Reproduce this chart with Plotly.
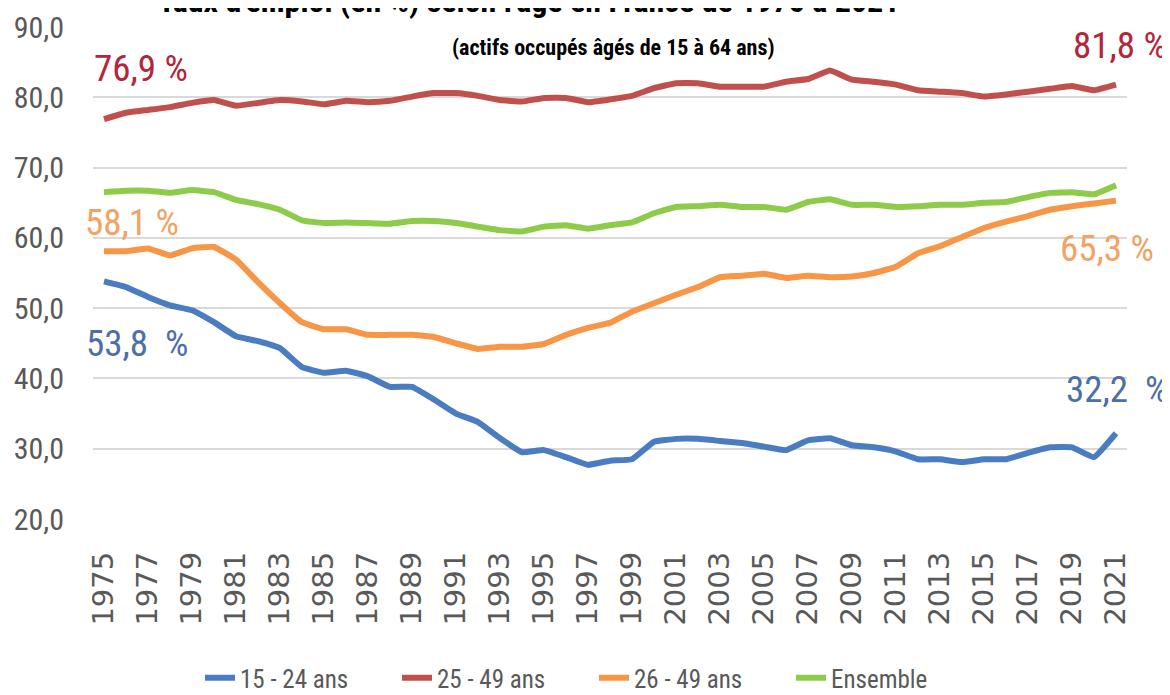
import plotly.graph_objects as go

years = list(range(1975, 2022))

emp_15_24 = [53.8, 53.0, 51.6, 50.4, 49.7, 48.0, 46.0, 45.3, 44.3, 41.6,
             40.8, 41.1, 40.3, 38.8, 38.8, 37.0, 35.0, 33.8, 31.5, 29.5,
             29.8, 28.8, 27.7, 28.3, 28.5, 31.0, 31.4, 31.4, 31.1, 30.8,
             30.3, 29.8, 31.2, 31.5, 30.5, 30.2, 29.6, 28.5, 28.5, 28.1,
             28.5, 28.5, 29.4, 30.2, 30.2, 28.8, 32.2]

emp_25_49 = [76.9, 77.8, 78.2, 78.6, 79.2, 79.6, 78.8, 79.2, 79.6, 79.4,
             79.0, 79.5, 79.3, 79.5, 80.1, 80.6, 80.6, 80.2, 79.6, 79.4,
             79.9, 79.9, 79.3, 79.7, 80.2, 81.3, 82.0, 82.0, 81.5, 81.5,
             81.5, 82.2, 82.6, 83.8, 82.5, 82.2, 81.8, 81.0, 80.8, 80.6,
             80.1, 80.4, 80.8, 81.2, 81.6, 81.0, 81.8]

emp_26_49 = [58.1, 58.1, 58.5, 57.5, 58.5, 58.7, 56.9, 53.7, 50.7, 48.0,
             47.0, 47.0, 46.2, 46.2, 46.2, 45.9, 45.0, 44.2, 44.5, 44.5,
             44.9, 46.2, 47.2, 47.9, 49.5, 50.7, 51.9, 53.0, 54.4, 54.6,
             54.9, 54.3, 54.6, 54.4, 54.5, 55.0, 55.9, 57.8, 58.8, 60.1,
             61.4, 62.3, 63.1, 64.0, 64.5, 64.9, 65.3]

ensemble = [66.5, 66.7, 66.7, 66.4, 66.8, 66.5, 65.4, 64.8, 64.0, 62.5,
            62.1, 62.2, 62.1, 62.0, 62.4, 62.4, 62.1, 61.6, 61.1, 60.9,
            61.6, 61.8, 61.3, 61.8, 62.2, 63.5, 64.4, 64.5, 64.7, 64.4,
            64.4, 64.0, 65.1, 65.5, 64.7, 64.7, 64.4, 64.5, 64.7, 64.7,
            65.0, 65.1, 65.8, 66.4, 66.5, 66.2, 67.5]

series_names = ["15 - 24 ans", "25 - 49 ans", "26 - 49 ans", "Ensemble"]
series_values = [emp_15_24, emp_25_49, emp_26_49, ensemble]
series_colors = ["#4A7CC2", "#C0504D", "#F79646", "#8FCB4A"]

x_tick_years = list(range(1975, 2022, 2))
y_tick_values = [20, 30, 40, 50, 60, 70, 80, 90]
y_tick_labels = [f"{v:.1f}".replace(".", ",") for v in y_tick_values]

title_text = "Taux d'emploi (en %) selon l'âge en France de 1975 à 2021"
subtitle_text = "(actifs occupés âgés de 15 à 64 ans)"

NARROW = "Liberation Sans Narrow, Arial Narrow, Roboto Condensed, Roboto, sans-serif"

fig = go.Figure()
for name, vals, col in zip(series_names, series_values, series_colors):
    fig.add_trace(go.Scatter(x=years, y=vals, mode="lines", name=name,
                             line=dict(color=col, width=6, shape="spline", smoothing=0.3)))

# page body has an 8px margin: figure is drawn from (8, 8)
OFF = 8
W, H = 1170 - OFF, 695 - OFF
L, T = 93 - OFF, 27 - OFF
R = W - (1127 - OFF)
B = H - (519 - OFF)
pw, ph = W - L - R, H - T - B

def px2paper(px, py):
    # px, py given in page pixels
    return (px - OFF - L) / pw, (H - B - (py - OFF)) / ph

def fmt(v):
    return f"{v:.1f}".replace(".", ",")

label_specs = [
    (fmt(emp_25_49[0]) + " %", 141, 69, "#B4243A"),
    (fmt(emp_26_49[0]) + " %", 132, 223, "#F2A263"),
    (fmt(emp_15_24[0]) + "  %", 137, 343, "#4D6FA6"),
    (fmt(emp_25_49[-1]) + " %", 1120, 45, "#B4243A"),
    (fmt(emp_26_49[-1]) + " %", 1107, 248, "#F2A263"),
    (fmt(emp_15_24[-1]) + "  %", 1117, 389, "#4D6FA6"),
]
annotations = []
for txt, px, py, col in label_specs:
    ax, ay = px2paper(px, py)
    annotations.append(dict(text=txt, x=ax, y=ay, xref="paper", yref="paper",
                            xanchor="center", yanchor="middle", showarrow=False,
                            font=dict(family=NARROW, size=37, color=col)))

tx, ty = px2paper(528, 1)
annotations.append(dict(text="<b>" + title_text + "</b>", x=tx, y=ty, xref="paper", yref="paper",
                        xanchor="center", yanchor="middle", showarrow=False,
                        font=dict(family=NARROW, size=32, color="#000000")))
sx, sy = px2paper(613, 47)
annotations.append(dict(text="<b>" + subtitle_text + "</b>", x=sx, y=sy, xref="paper", yref="paper",
                        xanchor="center", yanchor="middle", showarrow=False,
                        font=dict(family=NARROW, size=22, color="#000000")))

lx, ly = px2paper(200, 678)
fig.update_layout(
    width=W, height=H,
    margin=dict(l=L, r=R, t=T, b=B, pad=0, autoexpand=False),
    paper_bgcolor="white", plot_bgcolor="white",
    showlegend=True,
    legend=dict(orientation="h", x=lx, y=ly, xanchor="left", yanchor="middle",
                entrywidth=152, entrywidthmode="pixels",
                font=dict(family=NARROW, size=25, color="#595959"),
                bgcolor="rgba(0,0,0,0)"),
    annotations=annotations,
    xaxis=dict(range=[1974.5, 2021.5], tickmode="array", tickvals=x_tick_years,
               ticktext=[str(y) for y in x_tick_years], tickangle=-90,
               tickfont=dict(family="DejaVu Sans", size=29, color="#595959"),
               showgrid=False, zeroline=False, showline=False, ticks="",
               ticklabelstandoff=26, automargin=False),
    yaxis=dict(range=[20, 90], tickmode="array", tickvals=y_tick_values, ticktext=y_tick_labels,
               tickfont=dict(family=NARROW, size=30, color="#595959"),
               showgrid=True, gridcolor="#D9D9D9", gridwidth=2, zeroline=False,
               showline=False, ticks="", ticklabelstandoff=28, automargin=False),
)

fig.write_html("out.html")
